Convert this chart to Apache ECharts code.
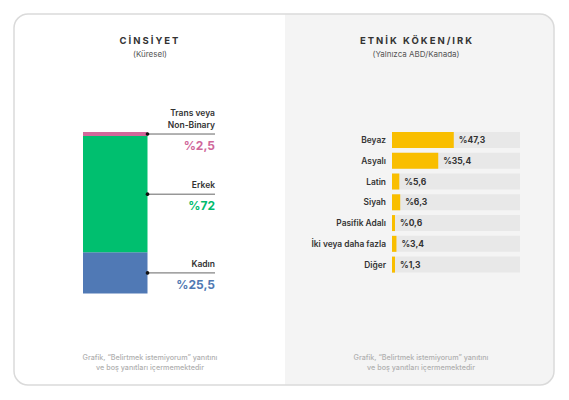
<!DOCTYPE html>
<html>
<head>
<meta charset="utf-8">
<script src="https://cdn.jsdelivr.net/npm/echarts@6/dist/echarts.min.js"></script>
<style>
html,body{margin:0;padding:0;background:#fff;}
#chart{width:569px;height:400px;}
</style>
</head>
<body>
<div id="chart"></div>
<script>
// ---- data ----
const genderTitle = 'CİNSİYET';
const genderSubtitle = '(Küresel)';
const genderNames = ['Kadın', 'Erkek', 'Trans veya\nNon-Binary'];
const genderValues = [25.5, 72, 2.5];

const ethnicTitle = 'ETNİK KÖKEN/IRK';
const ethnicSubtitle = '(Yalnızca ABD/Kanada)';
const ethnicCategories = ['Beyaz', 'Asyalı', 'Latin', 'Siyah', 'Pasifik Adalı', 'İki veya daha fazla', 'Diğer'];
const ethnicValues = [47.3, 35.4, 5.6, 6.3, 0.6, 3.4, 1.3];

const footnote = 'Grafik, “Belirtmek istemiyorum” yanıtını\nve boş yanıtları içermemektedir';

// ---- styles ----
const FONT = 'Inter, Roboto, "Noto Sans", sans-serif';
const genderColors = ['#5079b5', '#00bf6f', '#d4679a'];
const genderTextColors = ['#4f78b2', '#00bb6d', '#d0679a'];
const G = {left: 83, top: 132, width: 64.5, height: 161.5};
const LINE_END = 215;

const fmt = v => '%' + String(v).replace('.', ',');

const chart = echarts.init(document.getElementById('chart'), null, {renderer: 'svg'});

const titleBase = {padding: 0, textStyle: {fontFamily: FONT, fontSize: 9.5, fontWeight: 'bold', color: '#333'}, textAlign: 'center'};
const subBase = {padding: 0, textStyle: {fontFamily: FONT, fontSize: 8, fontWeight: 'normal', color: '#555'}, textAlign: 'center'};
const footBase = {padding: 0, textStyle: {fontFamily: FONT, fontSize: 7.2, fontWeight: 500, color: '#b0b0b0', lineHeight: 10}, textAlign: 'center'};

const option = {
  animation: false,
  title: [
    Object.assign({text: genderTitle, left: 150, top: 35}, titleBase),
    Object.assign({text: genderSubtitle, left: 150, top: 49.5}, subBase),
    Object.assign({text: ethnicTitle, left: 417, top: 35}, titleBase),
    Object.assign({text: ethnicSubtitle, left: 416, top: 49.5}, subBase),
    Object.assign({text: footnote, left: 150, top: 352}, footBase),
    Object.assign({text: footnote, left: 421, top: 352}, footBase)
  ],
  grid: [
    Object.assign({}, G),
    {left: 392, top: 129.6, width: 128, height: 145.4}
  ],
  xAxis: [
    {type: 'category', gridIndex: 0, data: [''], show: false},
    {type: 'value', gridIndex: 1, min: 0, max: 98, show: false}
  ],
  yAxis: [
    {type: 'value', gridIndex: 0, min: 0, max: 100, show: false},
    {type: 'category', gridIndex: 1, inverse: true, data: ethnicCategories,
     axisLine: {show: false}, axisTick: {show: false}, splitLine: {show: false},
     axisLabel: {margin: 6, fontFamily: FONT, fontSize: 8.4, fontWeight: 600, color: '#333'}}
  ],
  graphic: [
    {type: 'rect', z: -20, shape: {x: 14, y: 14, width: 540, height: 371, r: 14}, style: {fill: '#fff'}},
    {type: 'rect', z: -19, shape: {x: 285, y: 14, width: 269, height: 371, r: [0, 14, 14, 0]}, style: {fill: '#f4f4f4'}},
    {type: 'rect', z: -18, shape: {x: 14, y: 14, width: 540, height: 371, r: 14}, style: {fill: 'none', stroke: '#dadada', lineWidth: 1.5}}
  ],
  series: genderNames.map((n, i) => ({
    type: 'bar', name: n, stack: 'gender', xAxisIndex: 0, yAxisIndex: 0,
    barWidth: '100%', data: [genderValues[i]], itemStyle: {color: genderColors[i]}
  })).concat([{
    type: 'bar', xAxisIndex: 1, yAxisIndex: 1, data: ethnicValues, barWidth: 16, barMinHeight: 3,
    itemStyle: {color: '#f9be00'},
    showBackground: true, backgroundStyle: {color: '#e8e8e8'},
    label: {show: true, position: 'right', distance: 5, fontFamily: FONT, fontSize: 8.5, fontWeight: 'bold', color: '#333',
            formatter: p => fmt(p.value)}
  }])
};
chart.setOption(option);

// leader lines and labels for the stacked gender bar, placed via the axis scale
const barRight = G.left + G.width;
const extra = [];
let cum = 0;
genderValues.forEach((v, i) => {
  const mid = cum + v / 2;
  cum += v;
  const y = chart.convertToPixel({yAxisIndex: 0}, mid);
  extra.push({type: 'line', z: 10, shape: {x1: barRight, y1: y, x2: LINE_END, y2: y}, style: {stroke: '#666', lineWidth: 1}});
  extra.push({type: 'circle', z: 11, shape: {cx: barRight, cy: y, r: 1.8}, style: {fill: '#111'}});
  extra.push({type: 'text', z: 10, x: LINE_END, y: y - 3, style: {
    text: genderNames[i], align: 'right', verticalAlign: 'bottom', fontFamily: FONT, fontSize: 8.5,
    fontWeight: 600, fill: '#333', lineHeight: 12}});
  extra.push({type: 'text', z: 10, x: LINE_END, y: y + 5.5, style: {
    text: fmt(v), align: 'right', verticalAlign: 'top', fontFamily: FONT, fontSize: 12,
    fontWeight: 'bold', fill: genderTextColors[i]}});
});
chart.setOption({graphic: option.graphic.concat(extra)});

// letter spacing for the two headings
document.querySelectorAll('#chart svg text').forEach(t => {
  if (t.textContent === genderTitle || t.textContent === ethnicTitle) {
    t.setAttribute('letter-spacing', '2');
  }
});
</script>
</body>
</html>
